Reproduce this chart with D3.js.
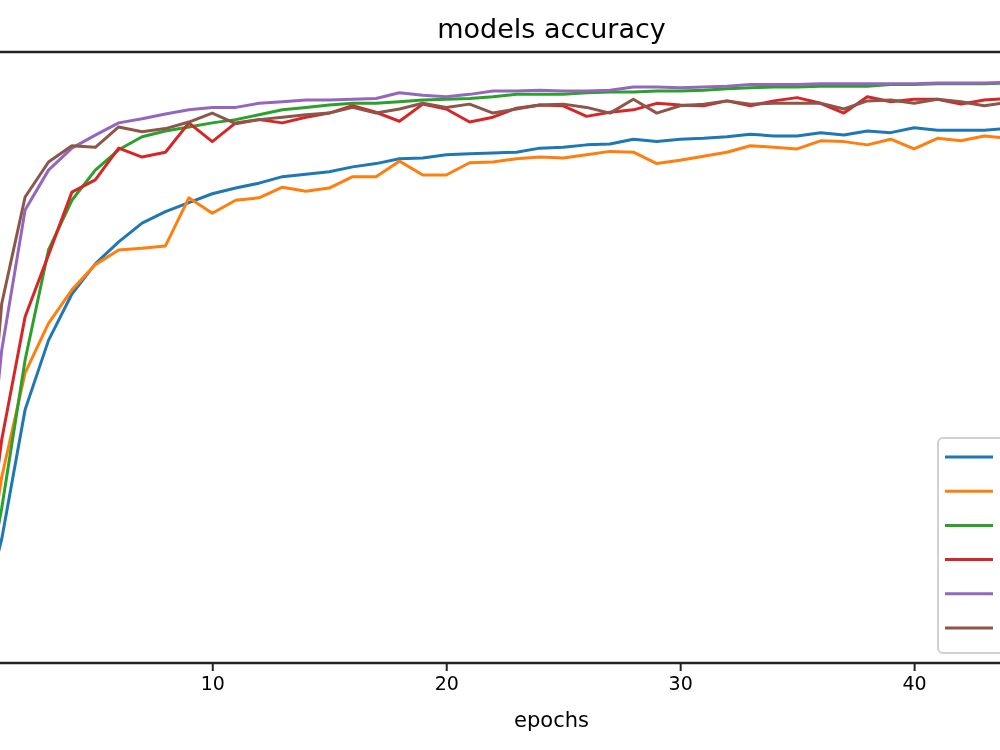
<!DOCTYPE html>
<html>
<head>
<meta charset="utf-8">
<script src="https://cdn.jsdelivr.net/npm/d3@7"></script>
<style>
  body { margin: 0; background: #fff; }
  svg { filter: blur(0.5px); }
  text { font-family: "DejaVu Sans", sans-serif; fill: #000; }
</style>
</head>
<body>
<svg class="chart" width="1000" height="750"></svg>
<script>
// values (accuracy per epoch, index 0..49)
var epochs = d3.range(0, 50);
var xTicks = [10, 20, 30, 40];
var seriesColors = ["#1f77b4", "#ff7f0e", "#2ca02c", "#d62728", "#9467bd", "#8c564b"];

var acc1 = [0.288, 0.402, 0.561, 0.646, 0.703, 0.740, 0.767, 0.790, 0.804, 0.815,
            0.826, 0.833, 0.839, 0.847, 0.850, 0.853, 0.859, 0.863, 0.869, 0.870,
            0.874, 0.875, 0.876, 0.877, 0.882, 0.883, 0.886, 0.887, 0.893, 0.890,
            0.893, 0.894, 0.896, 0.899, 0.897, 0.897, 0.901, 0.898, 0.903, 0.901,
            0.907, 0.904, 0.904, 0.904, 0.906, 0.907, 0.906, 0.907, 0.908, 0.907];
var acc2 = [0.297, 0.478, 0.606, 0.667, 0.708, 0.739, 0.757, 0.759, 0.762, 0.821,
            0.802, 0.818, 0.821, 0.834, 0.829, 0.833, 0.847, 0.847, 0.866, 0.849,
            0.849, 0.864, 0.865, 0.869, 0.871, 0.870, 0.874, 0.878, 0.877, 0.863,
            0.867, 0.872, 0.877, 0.885, 0.883, 0.881, 0.891, 0.890, 0.886, 0.893,
            0.881, 0.894, 0.891, 0.897, 0.894, 0.896, 0.898, 0.893, 0.897, 0.899];
var acc3 = [0.284, 0.440, 0.622, 0.757, 0.818, 0.855, 0.880, 0.896, 0.903, 0.908,
            0.913, 0.917, 0.923, 0.929, 0.932, 0.935, 0.937, 0.937, 0.939, 0.941,
            0.942, 0.943, 0.945, 0.948, 0.948, 0.948, 0.950, 0.951, 0.951, 0.952,
            0.952, 0.953, 0.955, 0.956, 0.957, 0.957, 0.958, 0.958, 0.958, 0.960,
            0.960, 0.961, 0.961, 0.961, 0.962, 0.962, 0.963, 0.963, 0.964, 0.964];
var acc4 = [0.303, 0.524, 0.675, 0.751, 0.828, 0.843, 0.882, 0.871, 0.877, 0.913,
            0.890, 0.913, 0.917, 0.913, 0.920, 0.925, 0.934, 0.926, 0.915, 0.936,
            0.930, 0.914, 0.920, 0.931, 0.935, 0.934, 0.921, 0.926, 0.929, 0.937,
            0.935, 0.934, 0.940, 0.934, 0.940, 0.944, 0.937, 0.925, 0.945, 0.939,
            0.942, 0.942, 0.936, 0.941, 0.943, 0.939, 0.944, 0.941, 0.945, 0.942];
var acc5 = [0.352, 0.634, 0.806, 0.855, 0.882, 0.898, 0.913, 0.918, 0.924, 0.929,
            0.932, 0.932, 0.937, 0.939, 0.941, 0.941, 0.942, 0.943, 0.950, 0.947,
            0.945, 0.948, 0.952, 0.952, 0.953, 0.952, 0.952, 0.953, 0.957, 0.957,
            0.956, 0.957, 0.958, 0.960, 0.960, 0.960, 0.961, 0.961, 0.961, 0.961,
            0.961, 0.962, 0.962, 0.962, 0.963, 0.963, 0.964, 0.964, 0.965, 0.965];
var acc6 = [0.364, 0.691, 0.822, 0.865, 0.885, 0.883, 0.908, 0.902, 0.906, 0.914,
            0.925, 0.912, 0.917, 0.920, 0.923, 0.925, 0.932, 0.925, 0.930, 0.937,
            0.932, 0.936, 0.925, 0.930, 0.935, 0.936, 0.932, 0.925, 0.942, 0.925,
            0.934, 0.936, 0.940, 0.936, 0.937, 0.937, 0.937, 0.930, 0.940, 0.941,
            0.937, 0.942, 0.939, 0.934, 0.938, 0.940, 0.936, 0.941, 0.939, 0.942];
var allSeries = [acc1, acc2, acc3, acc4, acc5, acc6];

// axes box: the reference is a zoomed crop, so the left/right spines
// (and the y tick labels / legend labels) fall outside the window
var margin = {left: -79, right: 1182, top: 52, bottom: 663};

var x = d3.scaleLinear()
    .domain([-2.45, 51.45])
    .range([margin.left, margin.right]);

var y = d3.scaleLinear()
    .domain([0.25, 1.0])
    .range([margin.bottom, margin.top]);

var chart = d3.select('.chart');

// title
chart.append('text')
    .attr('x', (margin.left + margin.right) / 2)
    .attr('y', 38)
    .attr('text-anchor', 'middle')
    .style('font-size', '27px')
    .text('models accuracy');

// lines
var line = d3.line()
    .x(function(d, i) { return x(epochs[i]); })
    .y(function(d) { return y(d); });

var g = chart.append('g');
allSeries.forEach(function(s, k) {
    g.append('path')
        .datum(s)
        .attr('d', line)
        .attr('fill', 'none')
        .attr('stroke', seriesColors[k])
        .attr('stroke-width', 3)
        .attr('stroke-linejoin', 'round')
        .attr('stroke-linecap', 'square');
});

// x axis
var xAxis = d3.axisBottom(x)
    .tickValues(xTicks)
    .tickSize(8)
    .tickPadding(6);

var xg = chart.append('g')
    .attr('transform', 'translate(0,' + margin.bottom + ')')
    .call(xAxis);
xg.select('.domain').remove();
xg.selectAll('.tick line').attr('stroke', '#222').attr('stroke-width', 2);
xg.selectAll('.tick text')
    .style('font-size', '19px')
    .attr('fill', '#000')
    .style('font-family', '"DejaVu Sans", sans-serif');

// spines
chart.append('rect')
    .attr('x', margin.left)
    .attr('y', margin.top)
    .attr('width', margin.right - margin.left)
    .attr('height', margin.bottom - margin.top)
    .attr('fill', 'none')
    .attr('stroke', '#222')
    .attr('stroke-width', 2.5);

// x label
chart.append('text')
    .attr('x', (margin.left + margin.right) / 2)
    .attr('y', 727)
    .attr('text-anchor', 'middle')
    .style('font-size', '21px')
    .text('epochs');

// legend (labels are beyond the right edge of the crop)
var legend = chart.append('g').attr('transform', 'translate(938,438)');
legend.append('rect')
    .attr('width', 200)
    .attr('height', 215)
    .attr('rx', 5)
    .attr('fill', '#fff')
    .attr('fill-opacity', 0.8)
    .attr('stroke', '#d0d0d0')
    .attr('stroke-width', 2);

legend.selectAll('line')
    .data(seriesColors)
    .enter().append('line')
    .attr('x1', 7)
    .attr('x2', 55)
    .attr('y1', function(d, i) { return 19 + i * 34.2; })
    .attr('y2', function(d, i) { return 19 + i * 34.2; })
    .attr('stroke', function(d) { return d; })
    .attr('stroke-width', 3);
</script>
</body>
</html>
